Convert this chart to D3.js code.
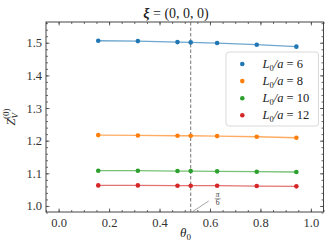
<!DOCTYPE html>
<html><head><meta charset="utf-8">
<script src="https://cdn.jsdelivr.net/npm/d3@7"></script>
<style>
html,body{margin:0;padding:0;background:#fff;}
svg{display:block;font-family:"Liberation Serif","DejaVu Serif",serif;}
</style></head>
<body>
<svg id="c" width="332" height="249"></svg>
<script>
const thetas = [Math.PI/20, Math.PI/10, 3*Math.PI/20, Math.PI/6, Math.PI/5, Math.PI/4, 3*Math.PI/10];
const seriesLabels = ["6", "8", "10", "12"];
const seriesColors = ["#1f77b4", "#ff7f0e", "#2ca02c", "#d62728"];
const zL6  = [1.506, 1.505, 1.502, 1.501, 1.499, 1.494, 1.488];
const zL8  = [1.217, 1.216, 1.215, 1.215, 1.214, 1.212, 1.209];
const zL10 = [1.108, 1.108, 1.107, 1.107, 1.106, 1.105, 1.104];
const zL12 = [1.063, 1.063, 1.062, 1.062, 1.062, 1.061, 1.060];
const seriesValues = [zL6, zL8, zL10, zL12];
const xTicks = [0.0, 0.2, 0.4, 0.6, 0.8, 1.0];
const yTicks = [1.0, 1.1, 1.2, 1.3, 1.4, 1.5];
const xMinor = d3.range(-0.05, 1.051, 0.05);
const yMinor = d3.range(0.98, 1.561, 0.02);
const refTheta = Math.PI/6;

const svg = d3.select("#c");
const m = {l:46, t:22, r:8.5, b:37};
const W = 332, H = 249;
const x = d3.scaleLinear().domain([-0.05, 1.05]).range([m.l, W - m.r]);
const y = d3.scaleLinear().domain([0.9815, 1.5635]).range([H - m.b, m.t]);
const frame = "#444", txt = "#333";

// dashed reference line
svg.append("line").attr("x1", x(refTheta)).attr("x2", x(refTheta))
  .attr("y1", m.t).attr("y2", H - m.b)
  .attr("stroke", "#777").attr("stroke-width", 1).attr("stroke-dasharray", "3.5,2");

// series
seriesValues.forEach((vals, i) => {
  const pts = thetas.map((t, j) => [t, vals[j]]);
  svg.append("path").datum(pts)
    .attr("d", d3.line().x(d => x(d[0])).y(d => y(d[1])))
    .attr("fill", "none").attr("stroke", seriesColors[i])
    .attr("stroke-width", 1.3).attr("stroke-opacity", 0.65);
  svg.selectAll(null).data(pts).enter().append("circle")
    .attr("cx", d => x(d[0])).attr("cy", d => y(d[1])).attr("r", 2.3)
    .attr("fill", seriesColors[i]);
});

// axes
function styleAxis(g) {
  g.select(".domain").remove();
  g.selectAll("line").attr("stroke", frame).attr("stroke-width", 0.8);
  g.selectAll("text").attr("fill", txt).style("font-size", "12.5px")
    .style("font-family", "'Liberation Serif','DejaVu Serif',serif");
}
const fmt = d3.format(".1f");
svg.append("g").attr("transform", `translate(0,${H - m.b})`)
  .call(d3.axisBottom(x).tickValues(xTicks).tickFormat(fmt).tickSizeInner(-3.5).tickPadding(6))
  .call(styleAxis);
svg.append("g").attr("transform", `translate(0,${H - m.b})`)
  .call(d3.axisBottom(x).tickValues(xMinor).tickFormat("").tickSizeInner(-2))
  .call(styleAxis);
svg.append("g").attr("transform", `translate(0,${m.t})`)
  .call(d3.axisTop(x).tickValues(xTicks).tickFormat("").tickSizeInner(-3.5))
  .call(styleAxis);
svg.append("g").attr("transform", `translate(0,${m.t})`)
  .call(d3.axisTop(x).tickValues(xMinor).tickFormat("").tickSizeInner(-2))
  .call(styleAxis);
svg.append("g").attr("transform", `translate(${m.l},0)`)
  .call(d3.axisLeft(y).tickValues(yTicks).tickFormat(fmt).tickSizeInner(-3.5).tickPadding(4))
  .call(styleAxis);
svg.append("g").attr("transform", `translate(${m.l},0)`)
  .call(d3.axisLeft(y).tickValues(yMinor).tickFormat("").tickSizeInner(-2))
  .call(styleAxis);
svg.append("g").attr("transform", `translate(${W - m.r},0)`)
  .call(d3.axisRight(y).tickValues(yTicks).tickFormat("").tickSizeInner(-3.5))
  .call(styleAxis);
svg.append("g").attr("transform", `translate(${W - m.r},0)`)
  .call(d3.axisRight(y).tickValues(yMinor).tickFormat("").tickSizeInner(-2))
  .call(styleAxis);

// frame
svg.append("rect").attr("x", m.l).attr("y", m.t)
  .attr("width", W - m.l - m.r).attr("height", H - m.t - m.b)
  .attr("fill", "none").attr("stroke", frame).attr("stroke-width", 1);

// pi/6 annotation
const ax = x(refTheta), ay = H - m.b;
svg.append("line").attr("x1", ax + 2).attr("y1", ay - 0.5).attr("x2", ax + 18).attr("y2", ay - 11)
  .attr("stroke", "#666").attr("stroke-width", 0.6);
const fx = ax + 27;
svg.append("text").attr("x", fx).attr("y", ay - 15).attr("text-anchor", "middle")
  .attr("fill", txt).style("font-size", "7.5px").style("font-style", "italic").text("π");
svg.append("line").attr("x1", fx - 3).attr("x2", fx + 3).attr("y1", ay - 13.2).attr("y2", ay - 13.2)
  .attr("stroke", txt).attr("stroke-width", 0.5);
svg.append("text").attr("x", fx).attr("y", ay - 7).attr("text-anchor", "middle")
  .attr("fill", txt).style("font-size", "7.5px").text("6");

// x label
const xl = svg.append("text").attr("x", 180).attr("y", 236.5).attr("fill", "#222")
  .style("font-size", "13px");
xl.append("tspan").style("font-style", "italic").text("θ");
xl.append("tspan").attr("dy", 3).style("font-size", "9px").text("0");

// y label
const yl = svg.append("text").attr("transform", "translate(15,117) rotate(-90)")
  .attr("text-anchor", "middle").attr("fill", "#222").style("font-size", "12.5px");
yl.append("tspan").style("font-style", "italic").text("Z");
yl.append("tspan").attr("dy", 3).style("font-size", "9px").style("font-style", "italic").text("V");
yl.append("tspan").attr("dx", -6).attr("dy", -9).style("font-size", "9px").text("(0)");

// title
const tt = svg.append("text").attr("x", 176).attr("y", 18).attr("text-anchor", "middle")
  .attr("fill", "#222").style("font-size", "14px");
tt.append("tspan").style("font-weight", "bold").style("font-style", "italic").text("ξ");
tt.append("tspan").text(" = (0, 0, 0)");

// legend
const lg = svg.append("g");
lg.append("rect").attr("x", 226).attr("y", 52).attr("width", 92.5).attr("height", 74)
  .attr("rx", 3).attr("fill", "#fff").attr("fill-opacity", 0.85)
  .attr("stroke", "#d5d5d5").attr("stroke-width", 0.9);
seriesLabels.forEach((lab, i) => {
  const yy = 64 + i * 17.1;
  lg.append("circle").attr("cx", 242.3).attr("cy", yy).attr("r", 2.3).attr("fill", seriesColors[i]);
  const t = lg.append("text").attr("x", 262.5).attr("y", yy + 4).attr("fill", "#222")
    .style("font-size", "12.5px");
  t.append("tspan").style("font-style", "italic").text("L");
  t.append("tspan").attr("dy", 2.5).style("font-size", "8.5px").text("0");
  t.append("tspan").attr("dy", -2.5).style("font-style", "italic").text("/a");
  t.append("tspan").text(" = " + lab);
});
</script>
</body></html>
